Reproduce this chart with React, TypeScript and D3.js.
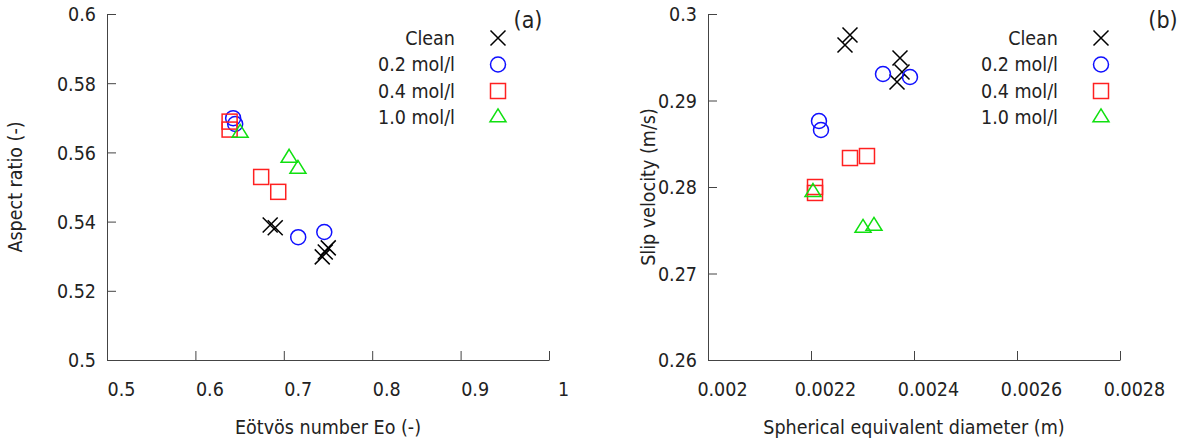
import React, { useEffect, useRef } from "react";
import * as d3 from "d3";

// panel (a): Eötvös number vs aspect ratio
const cleanEo = [0.6846, 0.6903, 0.7503, 0.7469, 0.7435];
const cleanAR = [0.539, 0.5382, 0.5324, 0.5312, 0.5298];
const c02Eo = [0.6427, 0.645, 0.7163, 0.7458];
const c02AR = [0.5699, 0.5682, 0.5355, 0.537];
const c04Eo = [0.6387, 0.6387, 0.6744, 0.6937];
const c04AR = [0.5689, 0.5666, 0.5529, 0.5486];
const c10Eo = [0.6506, 0.706, 0.716];
const c10AR = [0.5656, 0.5584, 0.5552];

// panel (b): diameter vs slip velocity
const cleanD = [0.0022757, 0.002266, 0.0023728, 0.0023767, 0.002367];
const cleanU = [0.29757, 0.29642, 0.29491, 0.29329, 0.29214];
const c02D = [0.0022155, 0.0022194, 0.0023398, 0.0023922];
const c02U = [0.28763, 0.28659, 0.29306, 0.29272];
const c04D = [0.0022078, 0.0022078, 0.0022757, 0.0023087];
const c04U = [0.28, 0.27931, 0.28335, 0.28358];
const c10D = [0.0022039, 0.002301, 0.0023223];
const c10U = [0.2794, 0.27526, 0.27549];

const seriesNames = ["Clean", "0.2 mol/l", "0.4 mol/l", "1.0 mol/l"];
const seriesColors = ["#000000", "#1010ff", "#ff2020", "#10e010"];
const seriesShapes = ["cross", "circle", "square", "triangle"];

const xTicksA = [0.5, 0.6, 0.7, 0.8, 0.9, 1];
const yTicksA = [0.5, 0.52, 0.54, 0.56, 0.58, 0.6];
const xTicksB = [0.002, 0.0022, 0.0024, 0.0026, 0.0028];
const yTicksB = [0.26, 0.27, 0.28, 0.29, 0.3];

const FONT = "'DejaVu Sans Condensed', 'DejaVu Sans', sans-serif";
const TEXT = "#222";
const FS = "19.5px";

const drawMarker = (g, shape, color) => {
    const s = 7.5;
    if (shape === "cross") {
        g.append("path").attr("d", `M${-s},${-s}L${s},${s}M${-s},${s}L${s},${-s}`);
    } else if (shape === "circle") {
        g.append("circle").attr("r", s);
    } else if (shape === "square") {
        g.append("rect").attr("x", -s).attr("y", -s).attr("width", 2 * s).attr("height", 2 * s);
    } else {
        const h = 13;
        g.append("path").attr("d", `M0,${(-2 * h) / 3}L${s + 0.5},${h / 3}L${-s - 0.5},${h / 3}Z`);
    }
    g.selectAll("*").attr("fill", "none").attr("stroke", color).attr("stroke-width", 1.5);
};

const drawPanel = (svg, cfg) => {
    const x = d3.scaleLinear().domain(cfg.xDomain).range([cfg.left, cfg.right]);
    const y = d3.scaleLinear().domain(cfg.yDomain).range([360, 14]);

    const xAxis = svg
        .append("g")
        .attr("transform", "translate(0,360)")
        .call(d3.axisBottom(x).tickValues(cfg.xTicks).tickSizeInner(-9).tickSizeOuter(0).tickFormat(d3.format("")));
    xAxis.select(".domain").attr("stroke", "#444");
    xAxis.selectAll(".tick line").attr("stroke", "#444");
    xAxis
        .selectAll(".tick text")
        .attr("x", 14)
        .attr("y", 29)
        .attr("dy", "0.35em")
        .attr("fill", TEXT)
        .style("font-family", FONT)
        .style("font-size", FS);

    const yAxis = svg
        .append("g")
        .attr("transform", `translate(${cfg.left},0)`)
        .call(d3.axisLeft(y).tickValues(cfg.yTicks).tickSizeInner(-9).tickSizeOuter(0).tickFormat(d3.format("")));
    yAxis.select(".domain").attr("stroke", "#444");
    yAxis.selectAll(".tick line").attr("stroke", "#444");
    yAxis
        .selectAll(".tick text")
        .attr("x", -11)
        .attr("dy", "0.35em")
        .attr("fill", TEXT)
        .style("font-family", FONT)
        .style("font-size", FS);

    // axis titles
    svg.append("text")
        .attr("x", (cfg.left + cfg.right) / 2)
        .attr("y", 434)
        .attr("text-anchor", "middle")
        .attr("fill", TEXT)
        .style("font-family", FONT)
        .style("font-size", FS)
        .text(cfg.xTitle);

    svg.append("text")
        .attr("transform", `translate(${cfg.yTitleX},187) rotate(-90)`)
        .attr("text-anchor", "middle")
        .attr("dy", "0.35em")
        .attr("fill", TEXT)
        .style("font-family", FONT)
        .style("font-size", FS)
        .text(cfg.yTitle);

    svg.append("text")
        .attr("x", cfg.tagX)
        .attr("y", 20)
        .attr("dy", "0.35em")
        .attr("text-anchor", "middle")
        .attr("fill", TEXT)
        .style("font-family", FONT)
        .style("font-size", "23px")
        .text(cfg.tag);

    // points
    cfg.series.forEach((s, k) => {
        s.xs.forEach((xv, i) => {
            const g = svg.append("g").attr("transform", `translate(${x(xv)},${y(s.ys[i])})`);
            drawMarker(g, seriesShapes[k], seriesColors[k]);
        });
    });

    // legend
    seriesNames.forEach((name, k) => {
        const ly = 38 + k * 26.5;
        svg.append("text")
            .attr("x", cfg.legendX)
            .attr("y", ly)
            .attr("dy", "0.35em")
            .attr("text-anchor", "end")
            .attr("fill", TEXT)
            .style("font-family", FONT)
            .style("font-size", FS)
            .text(name);
        const g = svg.append("g").attr("transform", `translate(${cfg.legendX + 43},${ly})`);
        drawMarker(g, seriesShapes[k], seriesColors[k]);
    });
};

const App = () => {
    const ref = useRef(null);

    useEffect(() => {
        const svg = d3.select(ref.current);
        svg.selectAll("*").remove();

        drawPanel(svg, {
            left: 107,
            right: 549,
            xDomain: [0.5, 1],
            yDomain: [0.5, 0.6],
            xTicks: xTicksA,
            yTicks: yTicksA,
            xTitle: "Eötvös number Eo (-)",
            yTitle: "Aspect ratio (-)",
            yTitleX: 15,
            tag: "(a)",
            tagX: 528,
            legendX: 455,
            series: [
                { xs: cleanEo, ys: cleanAR },
                { xs: c02Eo, ys: c02AR },
                { xs: c04Eo, ys: c04AR },
                { xs: c10Eo, ys: c10AR },
            ],
        });

        drawPanel(svg, {
            left: 708,
            right: 1120,
            xDomain: [0.002, 0.0028],
            yDomain: [0.26, 0.3],
            xTicks: xTicksB,
            yTicks: yTicksB,
            xTitle: "Spherical equivalent diameter (m)",
            yTitle: "Slip velocity (m/s)",
            yTitleX: 648,
            tag: "(b)",
            tagX: 1163,
            legendX: 1058,
            series: [
                { xs: cleanD, ys: cleanU },
                { xs: c02D, ys: c02U },
                { xs: c04D, ys: c04U },
                { xs: c10D, ys: c10U },
            ],
        });
    }, []);

    return (
        <div style={{ position: "absolute", left: 0, top: 0 }}>
            <svg ref={ref} width={1199} height={439} style={{ display: "block", background: "#fff" }} />
        </div>
    );
};

export default App;
